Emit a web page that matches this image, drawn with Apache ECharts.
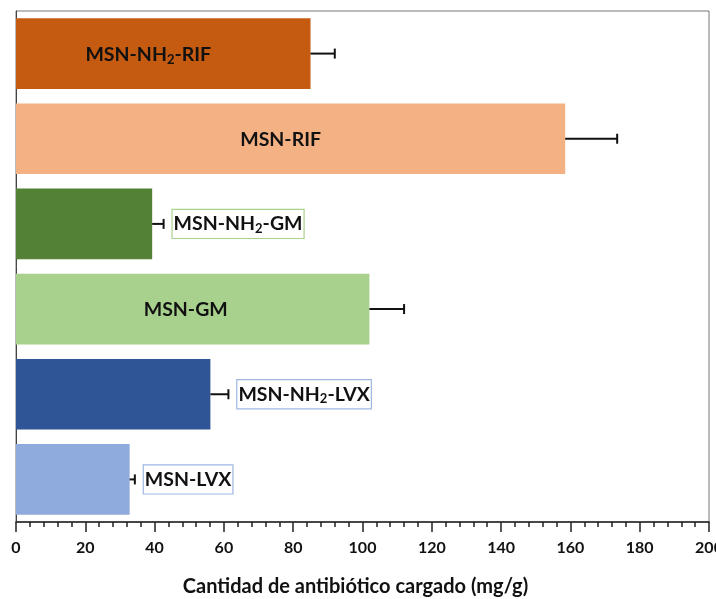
<!DOCTYPE html>
<html>
<head>
<meta charset="utf-8">
<script src="https://cdn.jsdelivr.net/npm/echarts@6/dist/echarts.min.js"></script>
<style>
  html, body { margin: 0; padding: 0; background: #ffffff; }
  #chart { width: 716px; height: 599px; }
</style>
</head>
<body>
<div id="chart"></div>
<script>
// Samples (top to bottom) and loaded antibiotic amount, mg/g
const categories = ['MSN-NH2-RIF', 'MSN-RIF', 'MSN-NH2-GM', 'MSN-GM', 'MSN-NH2-LVX', 'MSN-LVX'];
const loading = [85, 158.5, 39.3, 102, 56.1, 32.8];
const loadingError = [7, 15, 3.3, 10, 5.2, 1.5];
const barColors = ['#c55a11', '#f4b183', '#538135', '#a9d18e', '#2f5597', '#8faadc'];
// Label text, with the NH2 subscript written as a rich-text fragment
const labelText = [
  '{t|MSN-NH}{s|2}{t|-RIF}',
  '{t|MSN-RIF}',
  '{t|MSN-NH}{s|2}{t|-GM}',
  '{t|MSN-GM}',
  '{t|MSN-NH}{s|2}{t|-LVX}',
  '{t|MSN-LVX}'
];
// Whether a sample's label sits inside its bar or boxed after the error bar
const labelInside = [true, true, false, true, false, false];
const xTicks = { min: 0, max: 200, step: 20 };

const FONT = 'Lato, "Open Sans", sans-serif';
const baseText = { fontFamily: FONT, fontWeight: 'bold', fontSize: 19.5, color: '#111' };
const richStyle = {
  t: { fontFamily: FONT, fontWeight: 'bold', fontSize: 19.5, color: '#111', lineHeight: 24 },
  s: { fontFamily: FONT, fontWeight: 'bold', fontSize: 13, color: '#111', lineHeight: 24, padding: [10, 0, 0, 0] }
};
const insideOffset = [-15, -10, 0, -7, 0, 0];
const boxBorder = [null, null, '#a9d18e', null, '#9fb6e0', '#9fb6e0'];

const barData = loading.map((v, i) => ({
  value: v,
  itemStyle: { color: barColors[i] },
  label: labelInside[i]
    ? Object.assign({ show: true, position: 'inside', formatter: labelText[i], rich: richStyle, offset: [insideOffset[i], 1] }, baseText)
    : { show: false }
}));

// Boxed labels placed just past the end of the error bar
const tipData = loading.map((v, i) => labelInside[i] ? null : ({
  value: [v + loadingError[i], categories[i]],
  label: Object.assign({
    show: true,
    position: 'right',
    distance: 9,
    formatter: labelText[i],
    rich: richStyle,
    borderColor: boxBorder[i],
    borderWidth: 1.2,
    padding: [2, 1, 2, 1],
    backgroundColor: '#ffffff',
    opacity: 1
  }, baseText)
})).filter(d => d !== null);

const chart = echarts.init(document.getElementById('chart'), null, { renderer: 'canvas' });
chart.setOption({
  animation: false,
  backgroundColor: '#ffffff',
  grid: {
    left: 16, right: 7, top: 11, bottom: 77,
    outerBoundsMode: 'none',
    containLabel: false,
    show: true, borderColor: '#777', borderWidth: 1, backgroundColor: 'transparent'
  },
  xAxis: {
    type: 'value',
    min: xTicks.min, max: xTicks.max, interval: xTicks.step,
    name: 'Cantidad de antibiótico cargado (mg/g)',
    nameLocation: 'middle',
    nameGap: 55,
    nameTextStyle: { fontFamily: FONT, fontWeight: 'bold', fontSize: 20, color: '#111', padding: [0, 14, 0, 0] },
    axisLine: { show: true, lineStyle: { color: '#222', width: 1.5 } },
    axisTick: { show: true, inside: false, length: 10, lineStyle: { color: '#222', width: 1.5 } },
    minorTick: { show: true, splitNumber: 5, length: 5, lineStyle: { color: '#222', width: 1.5 } },
    splitLine: { show: false },
    axisLabel: { fontFamily: FONT, fontWeight: 'bold', fontSize: 16, color: '#111', margin: 18 }
  },
  yAxis: {
    type: 'category',
    data: categories,
    inverse: true,
    axisLine: { show: true, lineStyle: { color: '#444', width: 1 } },
    axisTick: { show: false },
    axisLabel: { show: false },
    splitLine: { show: false }
  },
  series: [
    {
      type: 'bar',
      data: barData,
      barCategoryGap: '17%',
      z: 2
    },
    {
      // one-sided error bars with end caps
      type: 'custom',
      z: 3,
      renderItem: function (params, api) {
        const cat = api.value(0);
        const v = api.value(1);
        const e = api.value(2);
        const start = api.coord([v, cat]);
        const end = api.coord([v + e, cat]);
        const cap = 5;
        return {
          type: 'group',
          children: [
            { type: 'line', shape: { x1: start[0], y1: start[1], x2: end[0], y2: end[1] },
              style: { stroke: '#111', lineWidth: 2 } },
            { type: 'line', shape: { x1: end[0], y1: end[1] - cap, x2: end[0], y2: end[1] + cap },
              style: { stroke: '#111', lineWidth: 2 } }
          ]
        };
      },
      encode: { x: 1, y: 0 },
      data: categories.map((c, i) => [i, loading[i], loadingError[i]])
    },
    {
      type: 'scatter',
      symbolSize: 0,
      itemStyle: { opacity: 1 },
      z: 4,
      data: tipData
    }
  ]
});
</script>
</body>
</html>
